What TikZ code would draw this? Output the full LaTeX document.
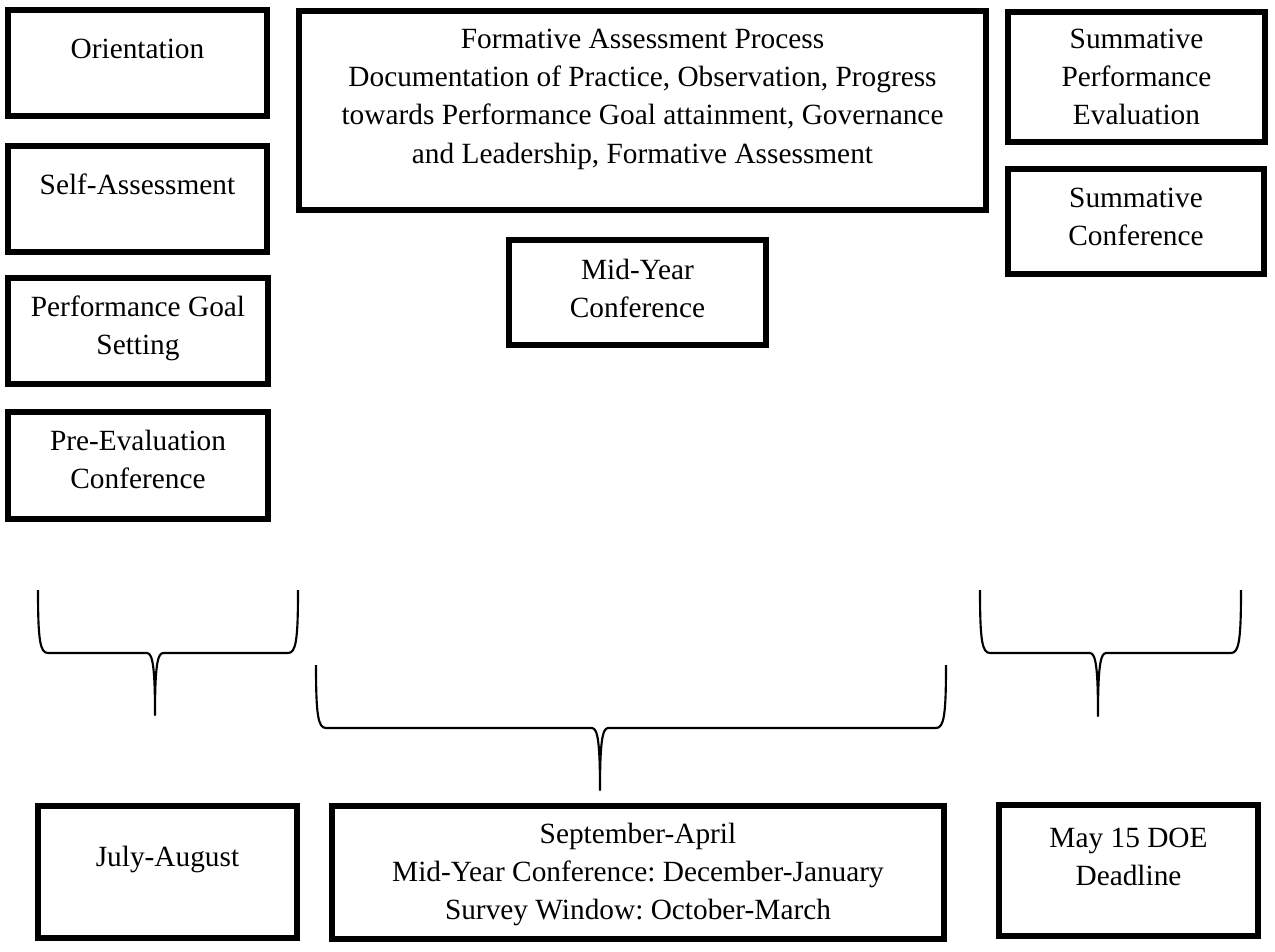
\documentclass[tikz,border=0pt]{standalone}
\usepackage{fontspec}
\setmainfont{Liberation Serif}
\usetikzlibrary{fit}
\frenchspacing

% curly brace: left x, right x, tip x, top y, bar y, tip y
\newcommand{\timebrace}[6]{%
  \draw[brc] (#1,#4) .. controls (#1,#5-13) and (#1+2,#5) .. (#1+10,#5)
    -- (#3-8,#5) .. controls (#3-2,#5) and (#3,#5+17) .. (#3,#6)
    .. controls (#3,#5+17) and (#3+2,#5) .. (#3+8,#5)
    -- (#2-10,#5) .. controls (#2-2,#5) and (#2,#5-13) .. (#2,#4);
}

\begin{document}
\begin{tikzpicture}[x=0.75pt,y=-0.75pt,
  box/.style={draw=black, line width=4.3pt, inner sep=0pt},
  txt/.style={align=center, inner sep=0pt, anchor=north,
              font=\fontsize{22pt}{28.7pt}\selectfont\frenchspacing},
  brc/.style={line width=1.6pt, line join=round}]

\useasboundingbox (0,0) rectangle (1275,951);
\fill[white] (0,0) rectangle (1275,951);

% left column: preparation steps
\node[box, fit={(8,10) (267,116)}] (orient) {};
\node[txt] (orient-t) at (137.5,31.2) {\strut Orientation};
\node[box, fit={(8,146) (267,252)}] (selfa) {};
\node[txt] (selfa-t) at (137.5,167.2) {\strut Self-Assessment};
\node[box, fit={(8,278) (268,384)}] (goal) {};
\node[txt] (goal-t) at (138,289.2) {\strut Performance Goal\\Setting};
\node[box, fit={(8,412) (268,519)}] (preeval) {};
\node[txt] (preeval-t) at (138,423.2) {\strut Pre-Evaluation\\Conference};

% middle column: formative process
\node[box, fit={(299,11) (986,210)}] (formative) {};
\node[txt] (formative-t) at (642.5,21.2) {\strut Formative Assessment Process\\
  Documentation of Practice, Observation, Progress\\
  towards Performance Goal attainment, Governance\\
  and Leadership, Formative Assessment};
\node[box, fit={(509,240) (766,345)}] (midyear) {};
\node[txt] (midyear-t) at (637.5,252.2) {\strut Mid-Year\\Conference};

% right column: summative steps
\node[box, fit={(1008,12) (1265,142)}] (sumeval) {};
\node[txt] (sumeval-t) at (1136.5,21.2) {\strut Summative\\Performance\\Evaluation};
\node[box, fit={(1008,169) (1264,274)}] (sumconf) {};
\node[txt] (sumconf-t) at (1136,180.2) {\strut Summative\\Conference};

% braces grouping each column
\timebrace{38}{298}{155}{590}{653}{715}
\timebrace{316}{946}{600}{665}{728}{790}
\timebrace{980}{1241}{1098}{590}{653}{716}

% timeline boxes
\node[box, fit={(38,806) (297,938)}] (july) {};
\node[txt] (july-t) at (167.5,839.2) {\strut July-August};
\node[box, fit={(332,806) (944,939)}] (sept) {};
\node[txt] (sept-t) at (638,816.2) {\strut September-April\\
  Mid-Year Conference: December-January\\
  Survey Window: October-March};
\node[box, fit={(999,805) (1258,936)}] (may) {};
\node[txt] (may-t) at (1128.5,820.2) {\strut May 15 DOE\\Deadline};

\end{tikzpicture}
\end{document}
